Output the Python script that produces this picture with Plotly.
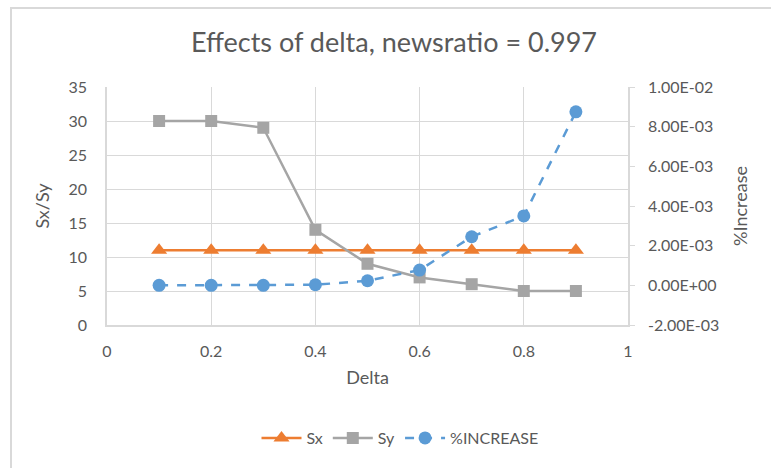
import plotly.graph_objects as go

# Data
delta = [0.1, 0.2, 0.3, 0.4, 0.5, 0.6, 0.7, 0.8, 0.9]
sx = [11, 11, 11, 11, 11, 11, 11, 11, 11]
sy = [30, 30, 29, 14, 9, 7, 6, 5, 5]
pct_increase = [0.0, 0.0, 0.0, 0.00003, 0.00023, 0.00077, 0.00245, 0.0035, 0.00875]

left_ticks = [0, 5, 10, 15, 20, 25, 30, 35]
right_ticks = [-0.002, 0.0, 0.002, 0.004, 0.006, 0.008, 0.010]
right_labels = [f"{v:.2E}" for v in right_ticks]
x_ticks = [0, 0.2, 0.4, 0.6, 0.8, 1]
x_labels = ["0", "0.2", "0.4", "0.6", "0.8", "1"]

FONT = "Lato, Open Sans, sans-serif"
TXT = "#595959"
GRID = "#d9d9d9"

fig = go.Figure()
fig.add_trace(go.Scatter(
    x=delta, y=sx, name="Sx", mode="lines+markers",
    line=dict(color="#ED7D31", width=2.5),
    marker=dict(symbol="triangle-up", size=14, color="#ED7D31"),
))
fig.add_trace(go.Scatter(
    x=delta, y=sy, name="Sy", mode="lines+markers",
    line=dict(color="#A5A5A5", width=2.5),
    marker=dict(symbol="square", size=12, color="#A5A5A5"),
))
fig.add_trace(go.Scatter(
    x=delta, y=pct_increase, name="%INCREASE", mode="lines+markers",
    yaxis="y2",
    line=dict(color="#5B9BD5", width=2.5, dash="dash"),
    marker=dict(symbol="circle", size=13, color="#5B9BD5"),
))

W, H = 771, 468
ml, mr, mt, mb = 107, 143, 87, 143
pw, ph = W - ml - mr, H - mt - mb

def px_x(p):
    return (p - ml) / pw

def px_y(p):
    return (H - mb - p) / ph

fig.update_layout(
    width=W, height=H,
    margin=dict(l=ml, r=mr, t=mt, b=mb, pad=0),
    paper_bgcolor="white", plot_bgcolor="white",
    font=dict(family=FONT, color=TXT, size=16),
    title=dict(text="Effects of delta, newsratio = 0.997",
               x=px_x(394), xref="paper", xanchor="center",
               y=1 - 43 / H, yanchor="middle",
               font=dict(size=27, color=TXT, family=FONT)),
    xaxis=dict(range=[0, 1], tickvals=x_ticks, ticktext=x_labels,
               showgrid=True, gridcolor=GRID, gridwidth=1,
               showline=True, linecolor=GRID, linewidth=1.5,
               zeroline=False, ticks="", ticklabelstandoff=11,
               title=dict(text="Delta", font=dict(size=18, color=TXT), standoff=12)),
    yaxis=dict(range=[0, 35], tickvals=left_ticks,
               showgrid=True, gridcolor=GRID, gridwidth=1,
               showline=True, linecolor=GRID, linewidth=1.5,
               zeroline=False, ticks="", ticklabelstandoff=15,
               title=dict(text="Sx/Sy", font=dict(size=18, color=TXT), standoff=14)),
    yaxis2=dict(range=[-0.002, 0.010], tickvals=right_ticks, ticktext=right_labels,
                overlaying="y", side="right", showgrid=False,
                showline=True, linecolor=GRID, linewidth=1.5,
                zeroline=False, ticks="outside", ticklen=5, tickcolor=GRID,
                ticklabelstandoff=10,
                title=dict(text="%Increase", font=dict(size=18, color=TXT), standoff=16)),
    legend=dict(orientation="h", x=px_x(400), xanchor="center",
                y=px_y(438), yanchor="middle",
                font=dict(size=16, color=TXT), itemwidth=40,
                tracegroupgap=20,
                bgcolor="rgba(0,0,0,0)"),
    showlegend=True,
)

# Chart frame
fig.add_shape(type="rect", xref="paper", yref="paper",
              x0=px_x(11), x1=px_x(W + 20), y0=px_y(8), y1=px_y(H + 20),
              line=dict(color="#d9d9d9", width=2), fillcolor="rgba(0,0,0,0)",
              layer="below")

fig.write_html("out.html")
